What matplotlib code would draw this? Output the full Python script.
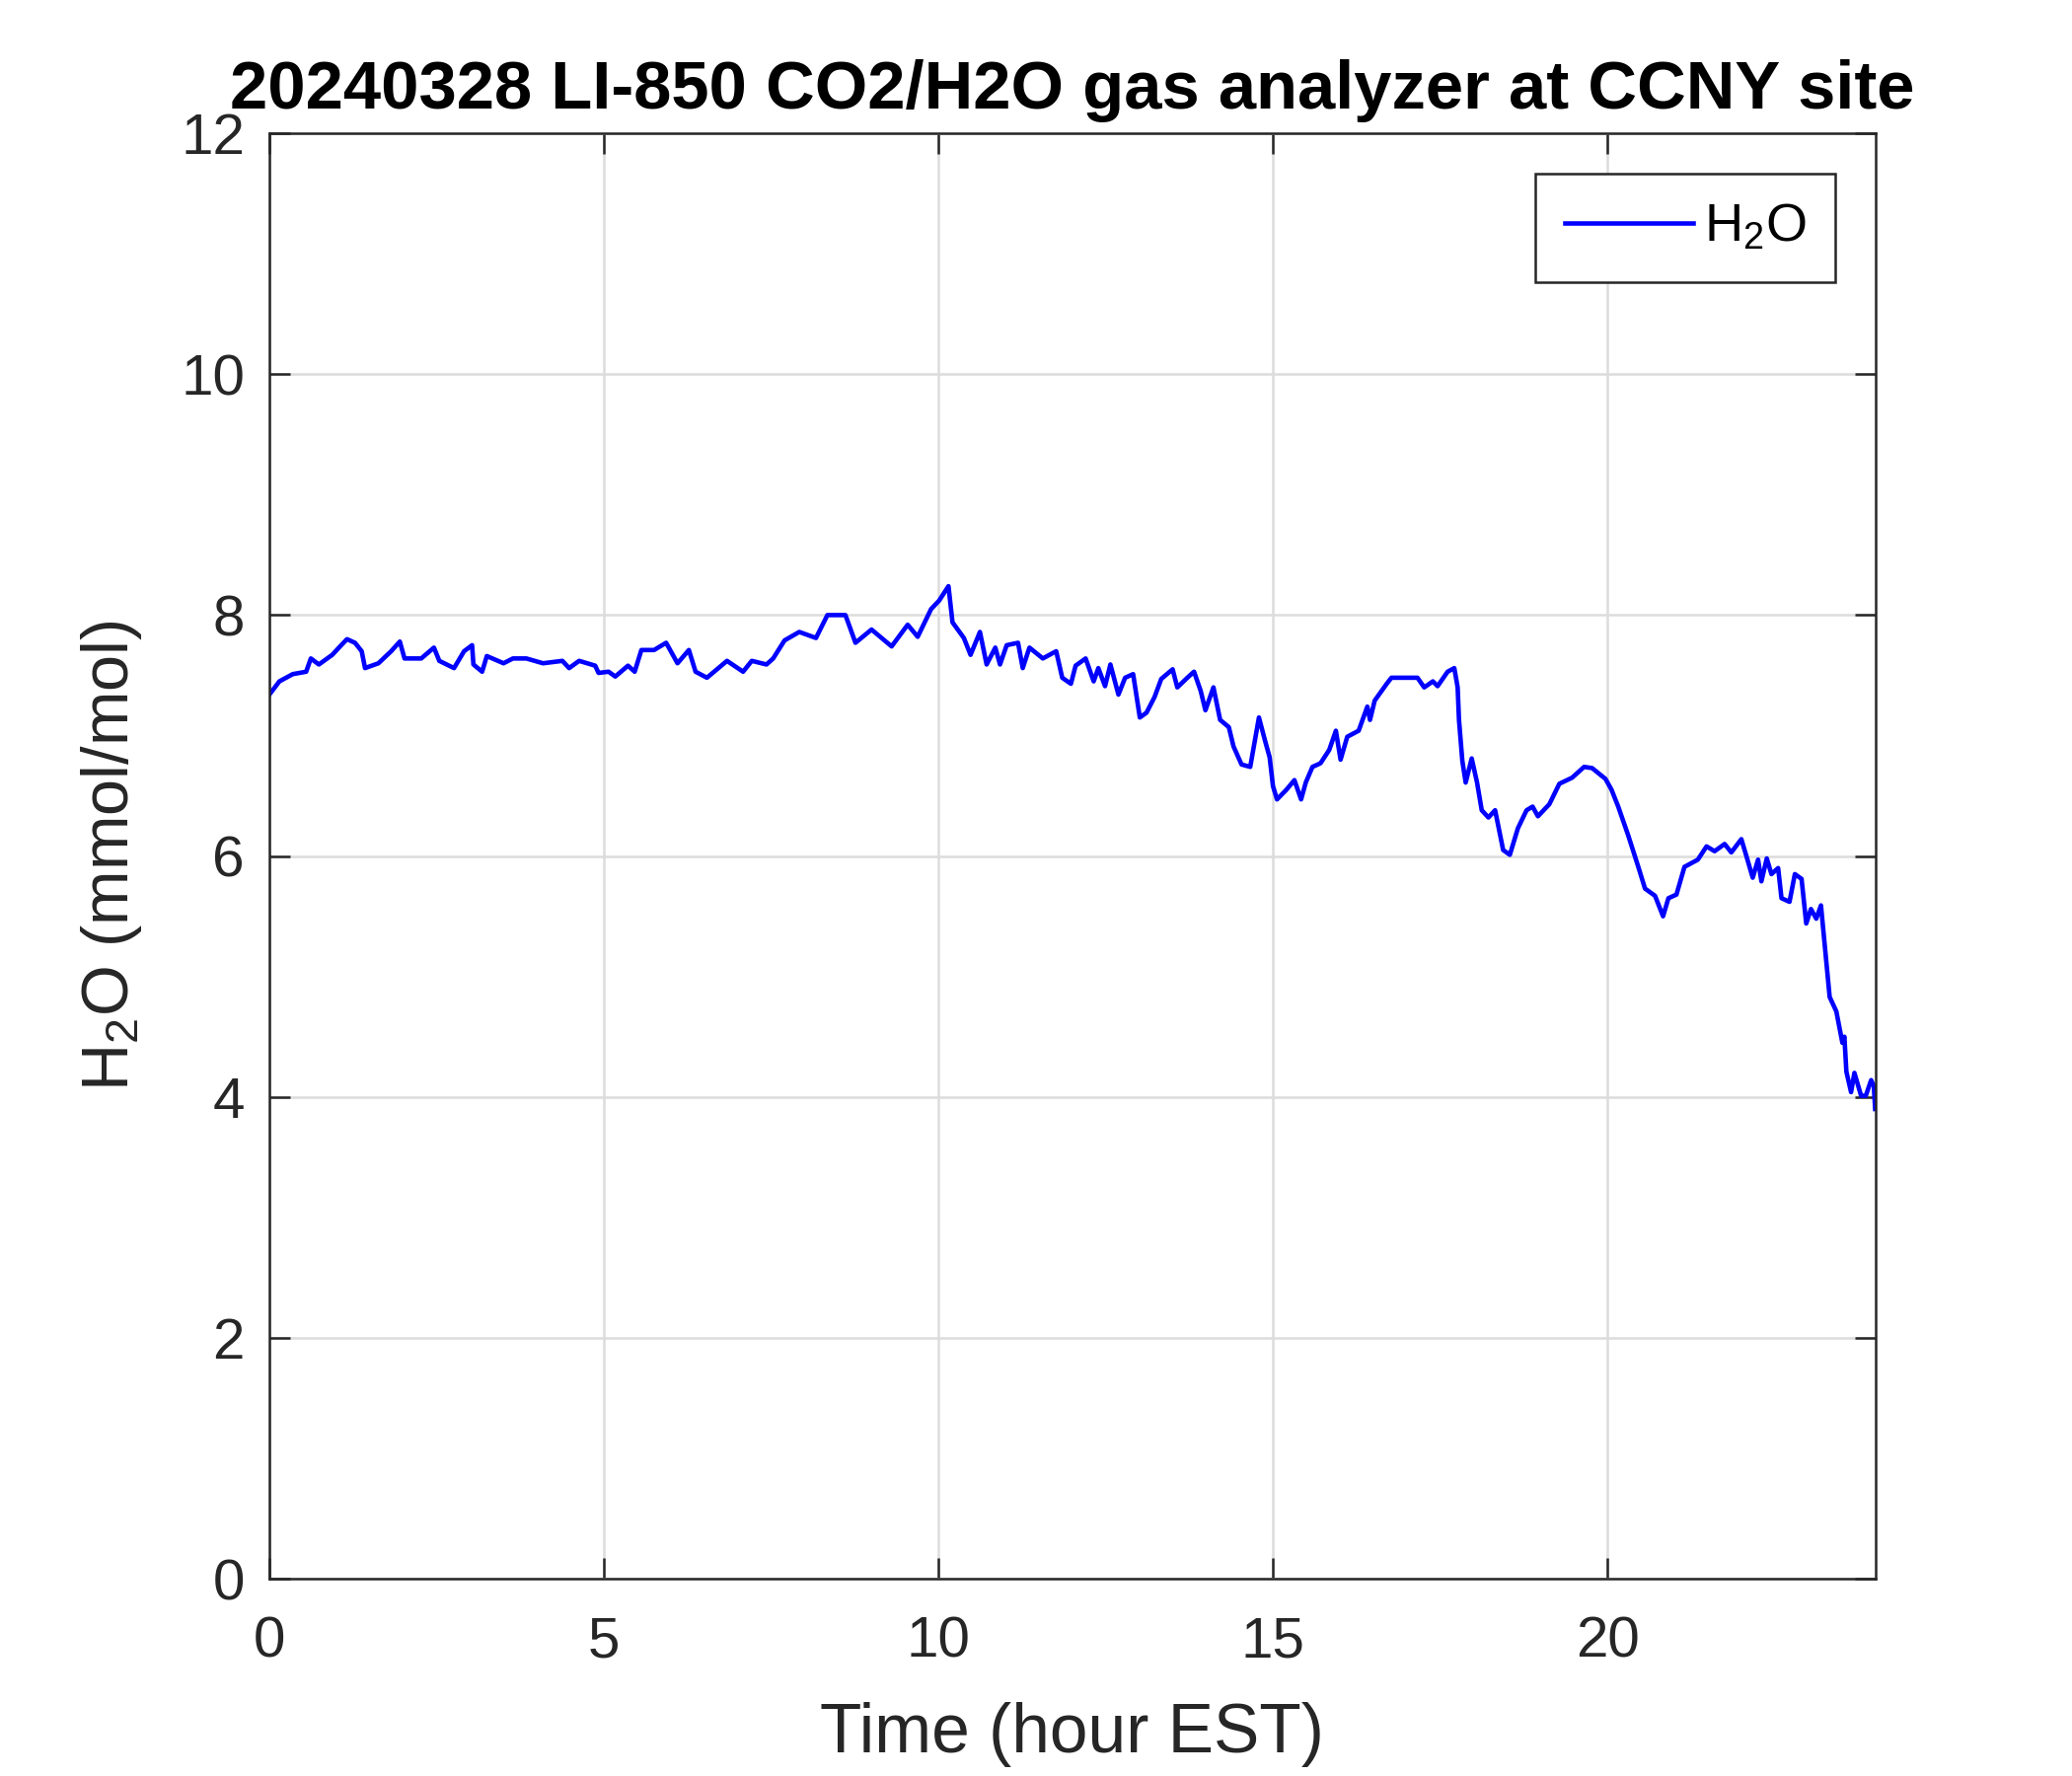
import matplotlib
matplotlib.use('Agg')
import matplotlib.pyplot as plt

plt.rcParams['font.family'] = ['Liberation Sans', 'DejaVu Sans']
plt.rcParams['mathtext.default'] = 'regular'

# time (hour EST) and H2O (mmol/mol)
hours = [0.00, 0.15, 0.35, 0.55, 0.62, 0.74, 0.94, 1.04, 1.16, 1.28, 1.38, 1.43,
         1.63, 1.82, 1.95, 2.02, 2.27, 2.46, 2.54, 2.76, 2.91, 3.03, 3.05, 3.18,
         3.25, 3.50, 3.64, 3.84, 4.09, 4.38, 4.48, 4.63, 4.87, 4.92, 5.07, 5.17,
         5.36, 5.46, 5.56, 5.75, 5.93, 6.10, 6.27, 6.37, 6.54, 6.84, 7.08, 7.21,
         7.43, 7.53, 7.70, 7.92, 8.17, 8.34, 8.61, 8.76, 9.00, 9.30, 9.54, 9.69,
         9.89, 10.01, 10.15, 10.21, 10.38, 10.48, 10.62, 10.72, 10.85, 10.92,
         11.02, 11.19, 11.26, 11.36, 11.56, 11.76, 11.85, 11.98, 12.05, 12.20,
         12.32, 12.39, 12.49, 12.57, 12.69, 12.79, 12.91, 13.01, 13.11, 13.23,
         13.33, 13.50, 13.57, 13.72, 13.82, 13.92, 13.99, 14.11, 14.21, 14.34,
         14.41, 14.53, 14.66, 14.73, 14.79, 14.88, 14.95, 15.00, 15.06, 15.20,
         15.32, 15.42, 15.49, 15.59, 15.71, 15.84, 15.94, 16.01, 16.11, 16.28,
         16.41, 16.45, 16.52, 16.70, 16.77, 16.92, 17.16, 17.26, 17.39, 17.46,
         17.61, 17.71, 17.76, 17.78, 17.83, 17.88, 17.97, 18.05, 18.12, 18.22,
         18.32, 18.44, 18.54, 18.66, 18.79, 18.88, 18.96, 19.13, 19.28, 19.47,
         19.65, 19.77, 19.97, 20.06, 20.16, 20.31, 20.46, 20.56, 20.71, 20.83,
         20.91, 21.03, 21.15, 21.35, 21.48, 21.60, 21.75, 21.85, 22.00, 22.07,
         22.17, 22.25, 22.30, 22.38, 22.45, 22.55, 22.60, 22.72, 22.80, 22.90,
         22.97, 23.04, 23.12, 23.19, 23.27, 23.32, 23.42, 23.51, 23.54, 23.57,
         23.64, 23.69, 23.79, 23.86, 23.94, 23.98, 24.00]
h2o = [7.34, 7.45, 7.51, 7.53, 7.64, 7.59, 7.67, 7.73, 7.80, 7.77, 7.70, 7.56,
       7.60, 7.70, 7.78, 7.64, 7.64, 7.73, 7.62, 7.56, 7.70, 7.75, 7.59, 7.53,
       7.66, 7.60, 7.64, 7.64, 7.60, 7.62, 7.56, 7.62, 7.58, 7.52, 7.53, 7.49,
       7.58, 7.53, 7.71, 7.71, 7.77, 7.60, 7.71, 7.53, 7.48, 7.62, 7.53, 7.62,
       7.59, 7.64, 7.79, 7.86, 7.81, 8.00, 8.00, 7.77, 7.88, 7.74, 7.92, 7.82,
       8.05, 8.12, 8.24, 7.94, 7.81, 7.67, 7.86, 7.59, 7.73, 7.59,
       7.75, 7.77, 7.56, 7.73, 7.64, 7.70, 7.48, 7.43, 7.58, 7.64,
       7.45, 7.56, 7.41, 7.59, 7.34, 7.48, 7.51, 7.15, 7.19, 7.32,
       7.47, 7.55, 7.40, 7.48, 7.53, 7.37, 7.21, 7.40, 7.13, 7.07,
       6.91, 6.76, 6.74, 6.96, 7.15, 6.96, 6.82, 6.58, 6.47, 6.55,
       6.63, 6.47, 6.61, 6.74, 6.77, 6.88, 7.04, 6.80, 6.99, 7.04,
       7.24, 7.13, 7.29, 7.43, 7.48, 7.48, 7.48, 7.40, 7.45, 7.41,
       7.53, 7.56, 7.40, 7.13, 6.79, 6.61, 6.81, 6.61, 6.38, 6.32,
       6.38, 6.05, 6.01, 6.23, 6.38, 6.41, 6.33, 6.43, 6.60, 6.65,
       6.74, 6.73, 6.64, 6.55, 6.41, 6.17, 5.91, 5.73, 5.67, 5.50,
       5.65, 5.68, 5.91, 5.97, 6.08, 6.04, 6.10, 6.03, 6.14, 6.01,
       5.82, 5.97, 5.79, 5.98, 5.85, 5.90, 5.65, 5.62, 5.85, 5.81,
       5.44, 5.56, 5.48, 5.59, 5.12, 4.83, 4.71, 4.45, 4.50, 4.21,
       4.04, 4.20, 4.01, 4.01, 4.14, 4.09, 3.90]

x_ticks = [0, 5, 10, 15, 20]
y_ticks = [0, 2, 4, 6, 8, 10, 12]

fig = plt.figure(figsize=(7, 6), dpi=300)
ax = fig.add_axes([0.130, 0.111, 0.775, 0.814])

ax.plot(hours, h2o, color='#0000ff', linewidth=1.1, label='H$_2$O')

ax.set_xlim(0, 24)
ax.set_ylim(0, 12)
ax.set_xticks(x_ticks)
ax.set_yticks(y_ticks)
ax.grid(True, color='#dcdcdc', linewidth=0.6)
ax.set_axisbelow(True)

ax.tick_params(direction='in', length=5, width=0.6, colors='#262626',
               labelsize=14, top=True, right=True)
ax.tick_params(axis='x', pad=9)
ax.tick_params(axis='y', pad=6)
for s in ax.spines.values():
    s.set_color('#262626')
    s.set_linewidth(0.6)

ax.set_xlabel('Time (hour EST)', fontsize=16.7, color='#262626', labelpad=8)
ax.set_ylabel('H$_2$O (mmol/mol)', fontsize=16, color='#262626', labelpad=9)
ax.set_title('20240328 LI-850 CO2/H2O gas analyzer at CCNY site',
             fontsize=16.5, fontweight='bold', pad=6)

leg = ax.legend(loc='upper right', fontsize=13, fancybox=False,
                edgecolor='#262626', framealpha=1, handlelength=2.4,
                handletextpad=0.2, borderpad=0.55, borderaxespad=0.75)
leg.get_frame().set_linewidth(0.6)

fig.savefig('out.png', dpi=300)
